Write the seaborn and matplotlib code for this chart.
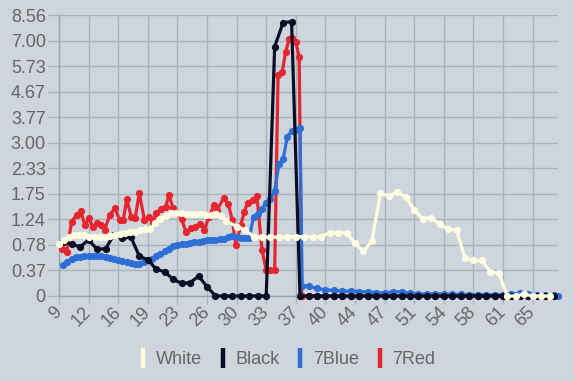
import numpy as np
import seaborn as sns
import matplotlib.pyplot as plt
from matplotlib.lines import Line2D

# y axis uses evenly spaced, non-linear tick values
y_ticks = [0, 0.37, 0.78, 1.24, 1.75, 2.33, 3.00, 3.77, 4.67, 5.73, 7.00, 8.56]
y_tick_labels = ["0", "0.37", "0.78", "1.24", "1.75", "2.33", "3.00", "3.77",
                 "4.67", "5.73", "7.00", "8.56"]
x_ticks = [9, 12.5, 16, 19.5, 23, 26.5, 30, 33.5, 37, 40.5, 44, 47.5, 51, 54.5, 58, 61.5, 65]
x_tick_labels = ["9", "12", "16", "19", "23", "26", "30", "33", "37", "40", "44",
                 "47", "51", "54", "58", "61", "65"]

series_names = ["White", "Black", "7Blue", "7Red"]
series_colors = ["#fffde1", "#0a0e24", "#2d6fd6", "#e5262f"]

# White
white_x = np.concatenate([np.arange(34) * 0.6 + 9.0, np.arange(30, 68)])
white_y = [0.79, 0.87, 0.93, 0.95, 0.96, 0.95, 0.93, 0.92, 0.92, 0.93, 0.94, 0.96,
           0.97, 0.99, 1.01, 1.02, 1.04, 1.06, 1.06, 1.17, 1.24, 1.30, 1.37, 1.37,
           1.36, 1.35, 1.34, 1.34, 1.34, 1.33, 1.33, 1.34, 1.31, 1.21,
           1.11, 1.05, 0.93, 0.92, 0.92, 0.92, 0.92, 0.93, 0.93, 0.93, 0.93, 1.00,
           1.00, 1.00, 0.81, 0.68, 0.85, 1.76, 1.71, 1.79, 1.68, 1.43, 1.25, 1.27,
           1.16, 1.06, 1.05, 0.57, 0.53, 0.53, 0.35, 0.33, 0, 0, 0.03, 0, 0, 0]

# Black
black_x = np.arange(9.5, 67.6, 1.0)
black_y = [0.84, 0.79, 0.75, 0.87, 0.71, 0.72, 0.96, 0.90, 0.92, 0.60, 0.54, 0.39,
           0.35, 0.24, 0.185, 0.19, 0.29, 0.135,
           0, 0, 0, 0, 0, 0, 0,
           6.7, 8.1, 8.15] + [0] * 31

# 7Blue
blue_x = np.concatenate([np.arange(9.5, 37.6, 0.5), [37.75], np.arange(38.5, 67.6, 1.0), [68.0]])
blue_y = [0.46, 0.50, 0.56, 0.58, 0.59, 0.60, 0.60, 0.60, 0.60, 0.60, 0.58, 0.57,
          0.55, 0.53, 0.52, 0.50, 0.49, 0.48, 0.48, 0.50, 0.53, 0.55, 0.60, 0.63,
          0.68, 0.72, 0.77, 0.78, 0.79, 0.80, 0.82, 0.83, 0.84, 0.85, 0.86, 0.87,
          0.87, 0.88, 0.89, 0.92, 0.94, 0.92, 0.90, 0.90, 0.91, 1.29, 1.35, 1.45,
          1.57, 1.65, 1.82, 2.44, 2.57, 3.18, 3.35, 3.38, 3.45,
          0.15,
          0.14, 0.11, 0.09, 0.08, 0.07, 0.07, 0.065, 0.06, 0.05, 0.04,
          0.06, 0.06, 0.04, 0.03, 0.03, 0.03, 0.03, 0.025, 0.025, 0.02,
          0.02, 0.02, 0.02, 0.02, 0.03, 0.04, 0.03, 0.02, 0.02, 0.01,
          0.0]

# 7Red
red_x = np.concatenate([
    [9.3, 9.9, 10.5, 11.1, 11.55, 12.05, 12.55, 13.0, 13.5, 14.0, 14.4, 15.0,
     15.6, 16.2, 16.6, 17.0, 17.55, 18.0, 18.5, 19.1, 19.6, 20.1, 20.5, 21.1,
     21.6, 22.0, 22.5, 23.0, 23.5, 24.0, 24.6, 25.1, 25.7, 26.2, 26.7, 27.35,
     27.7, 28.45, 29.0, 29.5, 29.9, 30.5, 30.9, 31.3, 31.9, 32.4, 33.0, 33.5,
     34.0, 34.5, 34.9, 35.4, 35.8, 36.2, 36.6, 37.0, 37.4, 37.7],
    np.arange(38.5, 67.6, 1.0)])
red_y = [0.71, 0.67, 1.20, 1.33, 1.41, 1.14, 1.26, 1.10, 1.18, 1.14, 1.05, 1.33,
         1.46, 1.22, 1.23, 1.64, 1.29, 1.26, 1.77, 1.23, 1.29, 1.20, 1.36, 1.44,
         1.49, 1.72, 1.46, 1.36, 1.24, 1.02, 1.08, 1.11, 1.16, 1.05, 1.29, 1.53,
         1.43, 1.66, 1.55, 1.23, 0.78, 1.14, 1.39, 1.57, 1.63, 1.71, 0.70, 0.37,
         0.37, 0.37, 5.36, 5.5, 6.44, 7.08, 7.14, 6.94, 6.16, 0] + [0] * 30

bg = "#ced5dd"
grid_c = "#aab2bc"
text_c = "#666666"

sns.set_style("whitegrid", {"axes.facecolor": bg, "figure.facecolor": bg,
                            "grid.color": grid_c, "axes.edgecolor": "#9ba2ab"})
plt.rcParams["font.family"] = ["Liberation Sans", "DejaVu Sans"]

fig = plt.figure(figsize=(5.74, 3.81), dpi=100)
ax = fig.add_axes([59 / 574, 85 / 381, 499 / 574, 281 / 381])

idx = np.arange(len(y_ticks), dtype=float)


def fwd(v):
    return np.interp(v, y_ticks, idx)


def inv(i):
    return np.interp(i, idx, y_ticks)


ax.set_yscale("function", functions=(fwd, inv))

data = [(white_x, white_y), (black_x, black_y), (blue_x, blue_y), (red_x, red_y)]
for k in range(3, -1, -1):
    xs, ys = data[k]
    sns.lineplot(x=xs, y=ys, ax=ax, color=series_colors[k], marker="o",
                 markersize=5.2, markeredgewidth=0, linewidth=2.3,
                 estimator=None, sort=False, legend=False,
                 zorder=3 + (3 - k), clip_on=False)

ax.set_xlim(9, 68)
ax.set_ylim(0, 8.56)
ax.set_yticks(y_ticks)
ax.set_yticklabels(y_tick_labels)
ax.set_xticks(x_ticks)
ax.set_xticklabels(x_tick_labels, rotation=45, ha="right", va="center",
                   rotation_mode="anchor")
ax.set_xlabel("")
ax.set_ylabel("")
ax.grid(True, color=grid_c, linewidth=1)
ax.set_axisbelow(True)
for s in ["top", "right"]:
    ax.spines[s].set_visible(False)
for s in ["left", "bottom"]:
    ax.spines[s].set_color("#9ba2ab")
    ax.spines[s].set_linewidth(1)
ax.tick_params(axis="y", length=8, width=1, color=grid_c, pad=1.5,
               labelsize=13, labelcolor=text_c, left=True)
ax.tick_params(axis="x", length=6, width=1, color=grid_c, pad=4,
               labelsize=13, labelcolor=text_c, bottom=True)

handles = [Line2D([], [], color=c, marker="|", linestyle="None",
                  markersize=15, markeredgewidth=3.2) for c in series_colors]
fig.legend(handles, series_names, loc="center", bbox_to_anchor=(287 / 574, 1 - 360 / 381),
           ncol=4, frameon=False, fontsize=13, handlelength=0.5, handletextpad=0.45,
           columnspacing=0.9, labelcolor=text_c)

fig.savefig("out.png", dpi=100, facecolor=bg)
